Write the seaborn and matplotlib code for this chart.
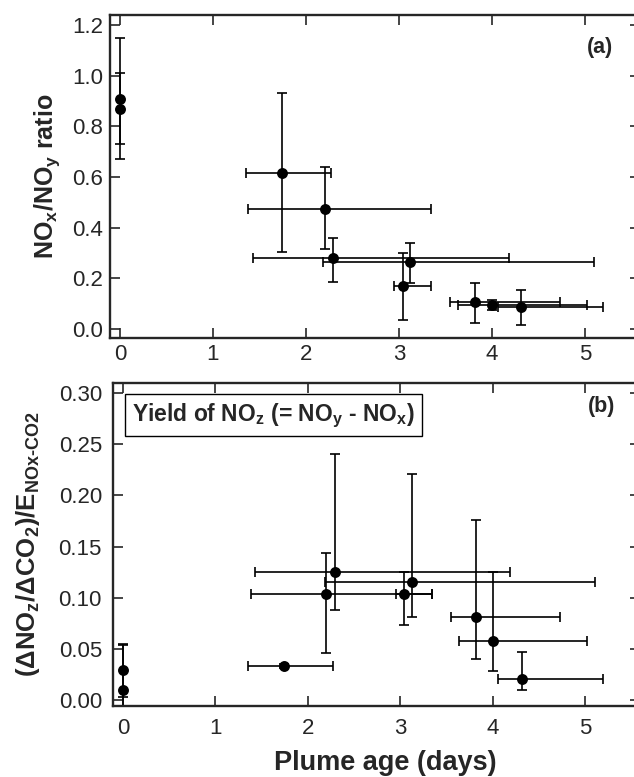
import matplotlib
matplotlib.use("Agg")
import matplotlib.pyplot as plt
import seaborn as sns
import pandas as pd
from matplotlib.ticker import MultipleLocator

sns.set_style("ticks")
plt.rcParams["font.family"] = ["Liberation Sans", "DejaVu Sans"]
plt.rcParams["mathtext.fontset"] = "custom"
plt.rcParams["mathtext.rm"] = "Liberation Sans"
plt.rcParams["mathtext.bf"] = "Liberation Sans:bold"

# Plume age (days) and its (asymmetric) spread
age = [0.0, 0.0, 1.74, 2.20, 2.29, 3.04, 3.12, 3.82, 4.00, 4.31]
age_lo = [0.0, 0.0, 0.39, 0.82, 0.86, 0.09, 0.94, 0.27, 0.37, 0.25]
age_hi = [0.0, 0.0, 0.53, 1.14, 1.89, 0.30, 1.98, 0.91, 1.02, 0.88]

# (a) NOx/NOy ratio
nox_ratio = [0.91, 0.87, 0.615, 0.475, 0.28, 0.17, 0.265, 0.105, 0.095, 0.088]
nox_lo = [0.24, 0.14, 0.31, 0.16, 0.094, 0.135, 0.085, 0.083, 0.02, 0.073]
nox_hi = [0.24, 0.14, 0.315, 0.165, 0.08, 0.13, 0.075, 0.075, 0.02, 0.067]

# (b) yield of NOz
noz_yield = [0.029, 0.010, 0.033, 0.104, 0.125, 0.104, 0.115, 0.081, 0.058, 0.020]
noz_lo = [0.026, 0.044, 0.002, 0.058, 0.037, 0.031, 0.034, 0.041, 0.030, 0.010]
noz_hi = [0.026, 0.044, 0.002, 0.040, 0.116, 0.021, 0.106, 0.095, 0.067, 0.027]

df = pd.DataFrame({"age": age, "age_lo": age_lo, "age_hi": age_hi,
                   "nox": nox_ratio, "nox_lo": nox_lo, "nox_hi": nox_hi,
                   "noz": noz_yield, "noz_lo": noz_lo, "noz_hi": noz_hi})
spread = df[df.age_hi > 0]

fig = plt.figure(figsize=(6.34, 7.77), dpi=100)
ax1 = fig.add_axes([110 / 634, 1 - 338 / 777, 530 / 634, 323 / 777])
ax2 = fig.add_axes([113 / 634, 1 - 706 / 777, 527 / 634, 323 / 777])

err_kw = dict(fmt="none", ecolor="black", elinewidth=1.2, capsize=3.5, capthick=1.2, zorder=2)

for ax, col in [(ax1, "nox"), (ax2, "noz")]:
    ax.errorbar(df.age, df[col], yerr=[df[col + "_lo"], df[col + "_hi"]], **err_kw)
    ax.errorbar(spread.age, spread[col], xerr=[spread.age_lo, spread.age_hi], **err_kw)
    sns.scatterplot(data=df, x="age", y=col, ax=ax, color="black", s=62,
                    linewidth=0, zorder=3, legend=False)
    ax.set_xlim(-0.107, 5.59)
    ax.xaxis.set_major_locator(MultipleLocator(1))
    ax.tick_params(direction="in", length=7.5, width=1.2, labelsize=16, pad=4,
                   top=True, right=True)
    ax.spines["right"].set_visible(False)
    for s in ["left", "bottom", "top"]:
        ax.spines[s].set_linewidth(1.7)

ax1.set_ylim(-0.036, 1.24)
ax1.yaxis.set_major_locator(MultipleLocator(0.2))
ax1.tick_params(axis="y", pad=5)
ax2.set_ylim(-0.006, 0.31)
ax2.yaxis.set_major_locator(MultipleLocator(0.05))
ax2.tick_params(axis="y", pad=8)
ax2.tick_params(axis="x", pad=9)

ax1.set_xlabel("")
ax1.set_ylabel(r"NO$_\mathbf{x}$/NO$_\mathbf{y}$ ratio", fontsize=18, fontweight="bold")
ax1.yaxis.set_label_coords(-0.09, 0.5)
ax2.set_ylabel("(ΔNO$_\\mathbf{z}$/ΔCO$_\\mathbf{2}$)/E$_\\mathbf{NOx‐CO2}$",
               fontsize=18.5, fontweight="bold")
ax2.yaxis.set_label_coords(-0.135, 0.5)
ax2.set_xlabel("Plume age (days)", fontsize=19.5, fontweight="bold")
ax2.xaxis.set_label_coords(0.516, -0.135)

ax1.text(0.925, 0.898, "(a)", transform=ax1.transAxes, fontsize=15.5,
         fontweight="bold", ha="center", va="center")
ax2.text(0.927, 0.926, "(b)", transform=ax2.transAxes, fontsize=15.5,
         fontweight="bold", ha="center", va="center")
ax2.text(0.036, 0.90, r"Yield of NO$_\mathbf{z}$ (= NO$_\mathbf{y}$ - NO$_\mathbf{x}$)",
         transform=ax2.transAxes, fontsize=16.5, fontweight="bold", va="center",
         bbox=dict(boxstyle="square,pad=0.3", fc="white", ec="black", lw=1.0))

fig.savefig("out.png", dpi=100)
